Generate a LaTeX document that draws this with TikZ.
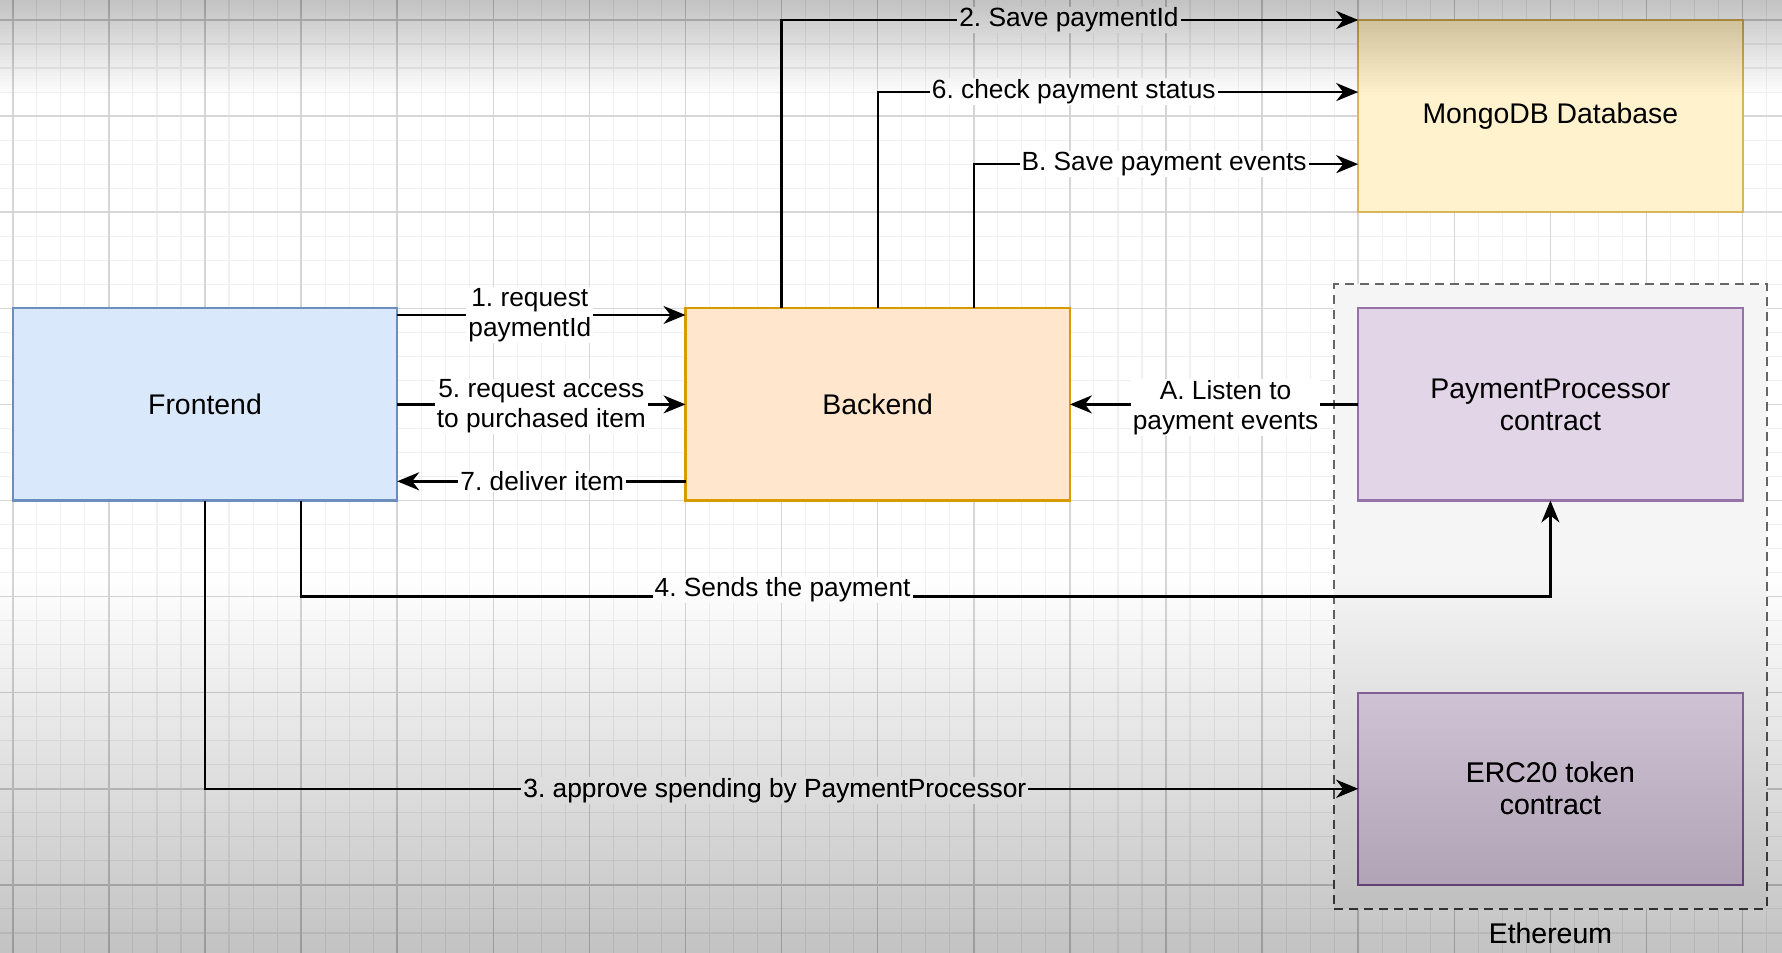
\documentclass[tikz,border=0pt]{standalone}
\usepackage{fontspec}
\setmainfont{Liberation Sans}
\frenchspacing
\usetikzlibrary{arrows.meta,calc}
\definecolor{feFill}{HTML}{DAE8FC}\definecolor{feLine}{HTML}{6C8EBF}
\definecolor{beFill}{HTML}{FFE6CC}\definecolor{beLine}{HTML}{D79B00}
\definecolor{dbFill}{HTML}{FFF2CC}\definecolor{dbLine}{HTML}{D6B656}
\definecolor{ppFill}{HTML}{E1D5E7}\definecolor{ppLine}{HTML}{9673A6}
\definecolor{ethFill}{HTML}{F5F5F5}\definecolor{ethLine}{HTML}{666666}
\definecolor{gridMajor}{HTML}{D6D6D6}\definecolor{gridMinor}{HTML}{F0F0F0}
\begin{document}
\begin{tikzpicture}[x=96.1pt,y=-96.1pt,
  box/.style={draw,line width=2.2pt,minimum width=384.4pt,minimum height=192.2pt,
    inner sep=0pt,outer sep=0pt,align=center,font=\fontsize{28.4pt}{32pt}\selectfont},
  container/.style={draw=ethLine,fill=ethFill,line width=1.8pt,dash pattern=on 9pt off 6pt,
    minimum width=432.45pt,minimum height=624.65pt,inner sep=0pt,outer sep=0pt},
  conn/.style={draw=black,line width=2.4pt,-{Stealth[length=22pt,width=18pt,inset=7pt]}},
  lbl/.style={fill=white,inner xsep=2pt,inner ysep=1pt,align=center,
    font=\fontsize{26.3pt}{30pt}\selectfont}]
\useasboundingbox (-0.1332,-0.2081) rectangle (18.4100,9.7086);
\fill[white] (-0.1332,-0.2081) rectangle (18.4100,9.7086);
% grid
\foreach \k in {0,...,73}{\draw[gridMinor,line width=1.1pt] ({\k*0.25},-0.2081) -- ({\k*0.25},9.7086);}
\foreach \k in {0,...,38}{\draw[gridMinor,line width=1.1pt] (-0.1332,{\k*0.25}) -- (18.41,{\k*0.25});}
\foreach \k in {0,...,18}{\draw[gridMajor,line width=1.5pt] (\k,-0.2081) -- (\k,9.7086);}
\foreach \k in {0,...,9}{\draw[gridMajor,line width=1.5pt] (-0.1332,\k) -- (18.41,\k);}
% container
\node[container] (eth) at (16,6) {};
\node[font=\fontsize{28.4pt}{32pt}\selectfont,text=black!88] (ethlbl) at (16,9.5) {Ethereum};
% boxes
\node[box,fill=feFill,draw=feLine] (fe) at (2,4) {Frontend};
\node[box,fill=beFill,draw=beLine] (be) at (9,4) {Backend};
\node[box,fill=dbFill,draw=dbLine] (db) at (16,1) {MongoDB Database};
\node[box,fill=ppFill,draw=ppLine] (pp) at (16,4) {PaymentProcessor\\contract};
\node[box,fill=ppFill,draw=ppLine] (erc) at (16,8) {ERC20 token\\contract};
% connectors
\draw[conn] ([xshift=96.1pt]be.north west) |- (db.north west);
\draw[conn] ([xshift=192.2pt]be.north west) |- ([yshift=-72.075pt]db.north west);
\draw[conn] ([xshift=288.3pt]be.north west) |- ([yshift=-144.15pt]db.north west);
\draw[conn] ([yshift=-6.7pt]fe.north east) -- ([yshift=-6.7pt]be.north west);
\draw[conn] (fe.east) -- (be.west);
\draw[conn] ([yshift=-76.9pt]be.west) -- ([yshift=-76.9pt]fe.east);
\draw[conn] (pp.west) -- (be.east);
\draw[conn] ([xshift=-96.1pt]fe.south east) |- ([yshift=-96.1pt]pp.south) -- (pp.south);
\draw[conn] (fe.south) |- (erc.west);
% labels
\node[lbl] (l1) at (5.38,3.07) {1. request\\paymentId};
\node[lbl] (l5) at (5.50,4.02) {5. request access\\to purchased item};
\node[lbl] (l7) at (5.51,4.80) {7. deliver item};
\node[lbl] (lA) at (12.62,4.03) {A. Listen to\\payment events};
\node[lbl] (l2) at (10.99,0.0) {2. Save paymentId};
\node[lbl] (l6) at (11.04,0.745) {6. check payment status};
\node[lbl] (lB) at (11.98,1.495) {B. Save payment events};
\node[lbl] (l4) at (8.01,5.93) {4. Sends the payment};
\node[lbl] (l3) at (7.93,8.02) {3. approve spending by PaymentProcessor};
% video vignette overlays
\foreach \i in {0,...,59}{\fill[black,fill opacity=0.0055] (-0.1332,{5.8+\i*0.0651}) rectangle (18.41,9.7086);}
\foreach \i in {1,...,30}{\fill[black,fill opacity=0.0096] (-0.1332,-0.2081) rectangle (18.41,{-0.2081+\i*0.033});}
\end{tikzpicture}
\end{document}
